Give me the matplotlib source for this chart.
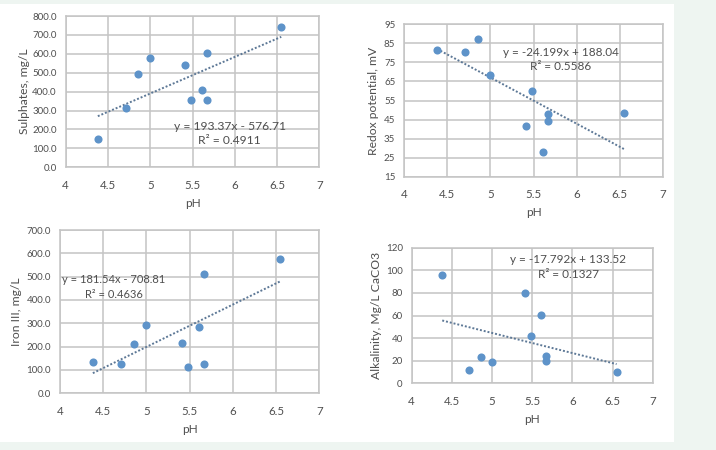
import matplotlib
matplotlib.use("Agg")
import matplotlib.pyplot as plt
import numpy as np

plt.rcParams['font.family'] = ['Lato', 'DejaVu Sans']

ph = [4.38, 4.71, 4.86, 5.00, 5.41, 5.48, 5.61, 5.67, 5.67, 6.55]
sulphates = [148, 315, 492, 578, 539, 356, 409, 603, 356, 740]
redox = [81.5, 80.3, 87.2, 68.4, 41.6, 60.0, 28.1, 47.9, 44.4, 48.4]
iron = [132.9, 124.3, 211.4, 292.9, 214.3, 112.9, 282.9, 512.9, 127.1, 577.1]
alkalinity = [96.2, 12.1, 23.6, 18.9, 80.2, 42.2, 60.2, 23.9, 20.1, 9.7]

fits = {
    'sul': (193.37, -576.71, "y = 193.37x - 576.71", "R² = 0.4911"),
    'red': (-24.199, 188.04, "y = -24.199x + 188.04", "R² = 0.5586"),
    'iron': (181.54, -708.81, "y = 181.54x - 708.81", "R² = 0.4636"),
    'alk': (-17.792, 133.52, "y = -17.792x + 133.52", "R² = 0.1327"),
}

W, H = 716, 450
fig = plt.figure(figsize=(W / 100, H / 100), dpi=100)
fig.patch.set_facecolor('#eef5f1')
# white panel
bg = fig.add_axes([0, 1 - 442 / H, 674 / W, (442 - 4) / H])
bg.set_facecolor('white')
bg.set_xticks([]); bg.set_yticks([])
for s in bg.spines.values():
    s.set_visible(False)
bg.set_zorder(-10)

MARK = '#5e93c9'
TREND = '#5d7896'
GRID = '#c4c4c4'
TXT = '#4f4f4f'


def make(x0, x1, y0, y1, yvals, ylim, ystep, yfmt, ylabel, fitkey, eqpos, ylab_x, eqsize=8.7):
    ax = fig.add_axes([x0 / W, 1 - y1 / H, (x1 - x0) / W, (y1 - y0) / H])
    ax.scatter(ph, yvals, s=34, color=MARK, zorder=3, linewidths=0)
    m, b, eq, r2 = fits[fitkey]
    xs = np.array([min(ph), max(ph)])
    ax.plot(xs, m * xs + b, linestyle=(0, (1, 1)), color=TREND, linewidth=1.4, zorder=2)
    ax.set_xlim(4, 7)
    ax.set_ylim(*ylim)
    ax.set_xticks(np.arange(4, 7.01, 0.5))
    ax.set_xticklabels(['4', '4.5', '5', '5.5', '6', '6.5', '7'])
    yt = np.arange(ylim[0], ylim[1] + 0.01, ystep)
    ax.set_yticks(yt)
    ax.set_yticklabels([yfmt.format(v) for v in yt])
    ax.grid(True, color=GRID, linewidth=1.1)
    ax.set_axisbelow(True)
    for s in ax.spines.values():
        s.set_color(GRID)
        s.set_linewidth(1.1)
    ax.tick_params(length=0, colors=TXT)
    ax.tick_params(axis='x', labelsize=8.3, pad=9)
    ax.tick_params(axis='y', labelsize=7, pad=6.5)
    ax.set_xlabel('pH', fontsize=8.5, color=TXT, labelpad=5)
    fig.text(ylab_x / W, 1 - ((y0 + y1) / 2) / H, ylabel, rotation=90,
             ha='center', va='center', fontsize=8.7, color=TXT)
    ex, ey1, ey2 = eqpos
    fig.text(ex / W, 1 - ey1 / H, eq, ha='center', va='center', fontsize=eqsize, color=TXT)
    fig.text(ex / W, 1 - ey2 / H, r2, ha='center', va='center', fontsize=eqsize, color=TXT)
    return ax


make(65.7, 319.3, 16, 167.3, sulphates, (0, 800), 100, '{:.1f}', 'Sulphates, mg/L', 'sul',
     (229.7, 126, 141), 25)
make(404.3, 662.7, 24.3, 176.7, redox, (15, 95), 10, '{:.0f}', 'Redox potential, mV', 'red',
     (561, 52.3, 67), 373.3, 8.5)
make(60, 319.3, 230, 393.3, iron, (0, 700), 100, '{:.1f}', 'Iron III, mg/L', 'iron',
     (113.5, 279.3, 295), 17, 8.0)
make(411.7, 652.7, 247.7, 383.3, alkalinity, (0, 120), 20, '{:.0f}', 'Alkalinity, Mg/L CaCO3', 'alk',
     (568.5, 259.7, 275), 377, 8.5)

fig.savefig('out.png', dpi=100, facecolor=fig.get_facecolor())
